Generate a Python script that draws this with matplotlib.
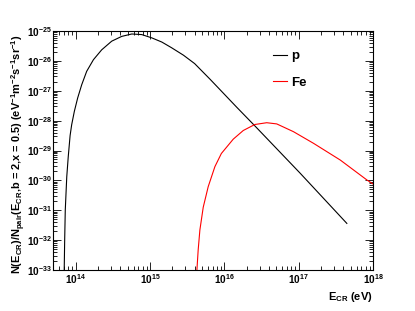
import numpy as np
import matplotlib.pyplot as plt
from matplotlib.ticker import LogLocator, LogFormatterSciNotation, NullFormatter

plt.rcParams['font.family'] = ['Liberation Sans', 'DejaVu Sans']
plt.rcParams['font.weight'] = 'bold'
plt.rcParams['mathtext.default'] = 'regular'

# log10 of energy (eV) and of the ratio
p_log_e = [13.842, 13.852, 13.860, 13.868, 13.880, 13.900, 13.925, 13.946,
           13.982, 14.027, 14.081, 14.148, 14.239, 14.350, 14.485, 14.620,
           14.755, 14.889, 15.024, 15.159, 15.29, 15.45, 15.60, 15.81,
           16.166, 16.42, 17.02, 17.648]
p_log_n = [-33.6, -32.0, -31.0, -30.55, -29.88, -29.21, -28.50, -28.14,
           -27.69, -27.24, -26.80, -26.35, -25.96, -25.63, -25.34, -25.18,
           -25.10, -25.12, -25.23, -25.37, -25.56, -25.81, -26.09, -26.62,
           -27.55, -28.20, -29.76, -31.44]

fe_log_e = [15.626, 15.631, 15.648, 15.671, 15.716, 15.783, 15.873, 15.960,
            16.12, 16.255, 16.41, 16.57, 16.705, 16.93, 17.2, 17.56, 17.92, 18.0]
fe_log_n = [-33.6, -33.0, -32.33, -31.66, -30.90, -30.21, -29.54, -29.10,
            -28.62, -28.33, -28.13, -28.07, -28.11, -28.37, -28.76, -29.32,
            -29.99, -30.12]

p_e = 10.0 ** np.array(p_log_e)
p_n = 10.0 ** np.array(p_log_n)
fe_e = 10.0 ** np.array(fe_log_e)
fe_n = 10.0 ** np.array(fe_log_n)

fig = plt.figure(figsize=(4.15, 3.11), dpi=100)
ax = fig.add_axes([53.3 / 415, 1 - 270 / 311, (373 - 53.3) / 415, (270 - 31) / 311])

ax.plot(p_e, p_n, color='black', lw=0.8, label='p')
ax.plot(fe_e, fe_n, color='red', lw=0.8, label='Fe')

ax.set_xscale('log')
ax.set_yscale('log')
ax.set_xlim(5e13, 1e18)
ax.set_ylim(1e-33, 1e-25)

ax.xaxis.set_major_locator(LogLocator(base=10, numticks=10))
ax.xaxis.set_minor_locator(LogLocator(base=10, subs=np.arange(2, 10), numticks=20))
ax.yaxis.set_major_locator(LogLocator(base=10, numticks=12))
ax.yaxis.set_minor_locator(LogLocator(base=10, subs=np.arange(2, 10), numticks=20))
ax.xaxis.set_minor_formatter(NullFormatter())
ax.yaxis.set_minor_formatter(NullFormatter())
ax.xaxis.set_major_formatter(LogFormatterSciNotation())
ax.yaxis.set_major_formatter(LogFormatterSciNotation())

ax.tick_params(which='both', direction='in', top=True, right=True, width=0.6)
ax.tick_params(which='major', length=6)
ax.tick_params(which='minor', length=3)
ax.tick_params(axis='x', which='major', labelsize=7.2, pad=1.5)
ax.tick_params(axis='y', which='major', labelsize=7.2, pad=1)
for lab in ax.get_xticklabels() + ax.get_yticklabels():
    lab.set_fontweight('bold')
for s in ax.spines.values():
    s.set_linewidth(0.8)

ax.set_xlabel(r'E$_{CR}$ (eV)', fontsize=8, fontweight='bold', ha='right')
ax.xaxis.set_label_coords(1.0, -0.085)

fig.text(19 / 415, 1 - 154 / 311,
         r'N(E$_{CR}$)/N$_{pair}$(E$_{CR}$,b = 2,x = 0.5) '
         r'(eV$^{-1}$m$^{-2}$s$^{-1}$sr$^{-1}$)',
         rotation=90, ha='center', va='center', fontsize=7.9, fontweight='bold')

ax.legend(loc='upper left', bbox_to_anchor=(0.687, 0.92), frameon=False,
          handlelength=1.05, handletextpad=0.35,
          borderpad=0, borderaxespad=0, labelspacing=1.1,
          prop={'weight': 'bold', 'size': 9.5})

fig.savefig('out.png', dpi=100, facecolor='white')
